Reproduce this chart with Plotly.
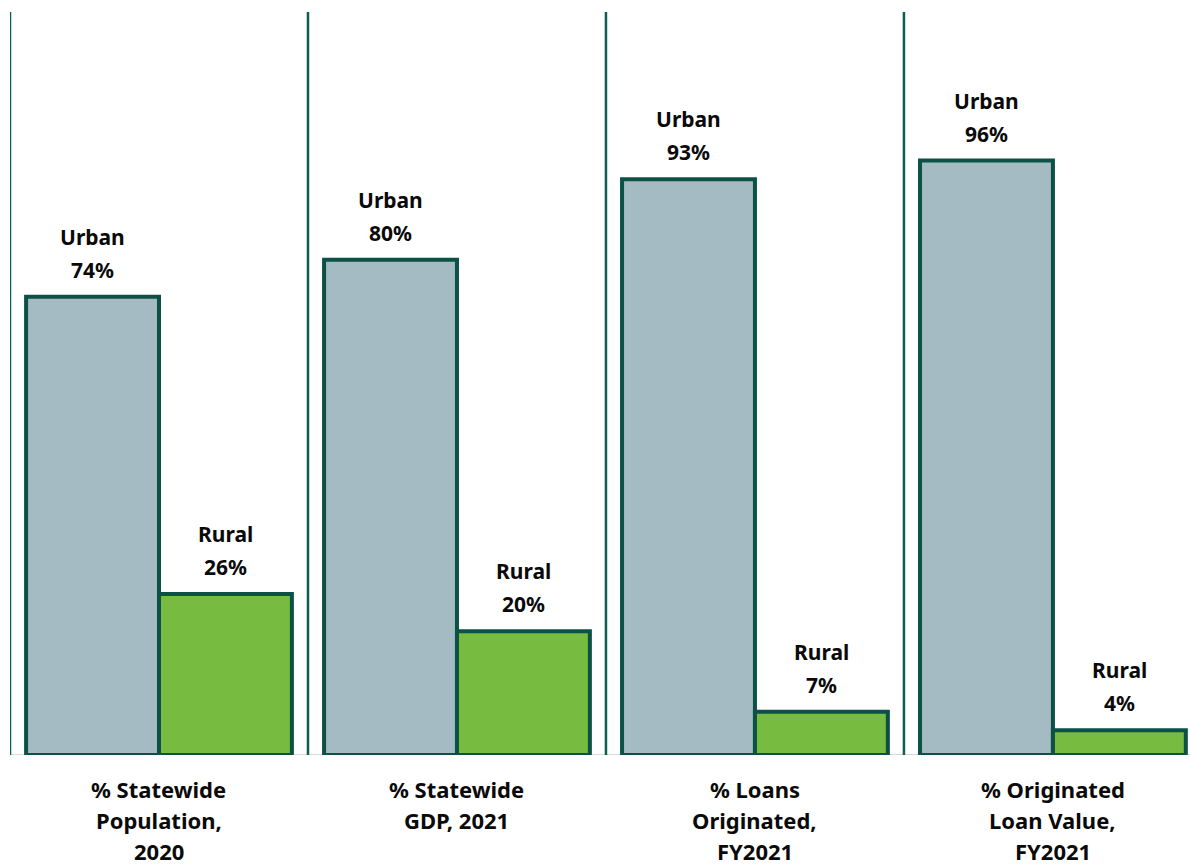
import plotly.graph_objects as go

# Category labels (one list per line) and shares (percent)
categories = [
    ["% Statewide", "Population,", "2020"],
    ["% Statewide", "GDP, 2021"],
    ["% Loans", "Originated,", "FY2021"],
    ["% Originated", "Loan Value,", "FY2021"],
]
urban = [74, 80, 93, 96]
rural = [26, 20, 7, 4]

URBAN_COLOR = "#a4bbc3"
RURAL_COLOR = "#77bb41"
OUTLINE = "#0b5145"
SEP_COLOR = "#0f5c50"
FONT = "Noto Sans"
LINE_GAP = 33      # px between value-label lines
CAT_GAP = 31       # px between category-label lines

x_pos = list(range(len(categories)))
offset = 0.223
bar_w = 0.446

fig = go.Figure()
fig.add_trace(go.Bar(
    x=[i - offset for i in x_pos], y=urban, width=bar_w,
    marker=dict(color=URBAN_COLOR, line=dict(color=OUTLINE, width=4)),
    name="Urban", hoverinfo="skip",
))
fig.add_trace(go.Bar(
    x=[i + offset for i in x_pos], y=rural, width=bar_w,
    marker=dict(color=RURAL_COLOR, line=dict(color=OUTLINE, width=4)),
    name="Rural", hoverinfo="skip",
))

label_font = dict(family=FONT, size=21, color="#0a0a0a", weight="bold")
cat_font = dict(family=FONT, size=22, color="#0a0a0a", weight="bold")
annotations = []


def value_label(xc, val, name):
    # two stacked lines above the bar: series name, then the share
    for k, txt in enumerate([f"{val}%", name]):
        annotations.append(dict(
            x=xc, y=val, xref="x", yref="y", text=txt, showarrow=False,
            yanchor="middle", yshift=27 + k * LINE_GAP, font=label_font,
        ))


for i in x_pos:
    value_label(i - offset, urban[i], "Urban")
    value_label(i + offset, rural[i], "Rural")
    for k, line in enumerate(categories[i]):
        annotations.append(dict(
            x=i, y=0, xref="x", yref="paper", text=line, showarrow=False,
            yanchor="middle", yshift=-(34 + k * CAT_GAP), font=cat_font,
        ))

shapes = [dict(type="line", xref="paper", yref="y", x0=0, x1=1, y0=0, y1=0,
               line=dict(color="#d9d9d9", width=2), layer="below")]
for i in x_pos:
    shapes.append(dict(type="line", xref="x", yref="paper",
                       x0=i - 0.5, x1=i - 0.5, y0=0, y1=1,
                       line=dict(color=SEP_COLOR, width=2.5), layer="below"))

fig.update_layout(
    width=1190, height=867,
    margin=dict(l=10, r=0, t=12, b=112),
    paper_bgcolor="white", plot_bgcolor="white",
    showlegend=False, barmode="overlay",
    xaxis=dict(range=[-0.5, 3.46], showticklabels=False, showgrid=False,
               zeroline=False, showline=False, fixedrange=True),
    yaxis=dict(range=[0, 120], showticklabels=False, showgrid=False,
               zeroline=False, showline=False, fixedrange=True),
    annotations=annotations, shapes=shapes,
)

fig.write_html("out.html")
